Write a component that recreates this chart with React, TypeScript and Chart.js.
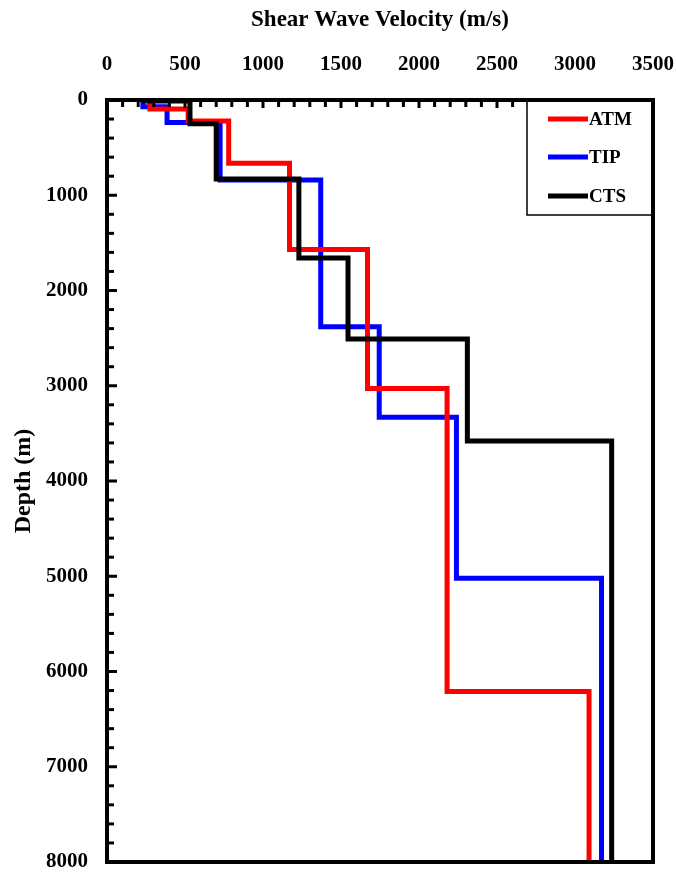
import React, { useEffect, useRef } from "react";
import { Chart, registerables } from "chart.js";
Chart.register(...registerables);

// Layer boundaries (depth, m) and layer velocities (m/s)
const seriesNames = ["ATM", "TIP", "CTS"];
const seriesColors = ["#ff0000", "#0000ff", "#000000"];
const atmDepths = [0, 94, 220, 665, 1570, 3030, 6210, 8000];
const atmVelocities = [275, 520, 780, 1170, 1670, 2180, 3090];
const tipDepths = [0, 70, 235, 840, 2380, 3330, 5020, 8000];
const tipVelocities = [230, 385, 725, 1370, 1745, 2240, 3170];
const ctsDepths = [0, 10, 250, 830, 1660, 2510, 3580, 8000];
const ctsVelocities = [240, 532, 700, 1230, 1545, 2310, 3235];
const xTickValues = [0, 500, 1000, 1500, 2000, 2500, 3000, 3500];
const yTickValues = [0, 1000, 2000, 3000, 4000, 5000, 6000, 7000, 8000];

function stepPoints(depths: number[], vels: number[]) {
  const pts: { x: number; y: number }[] = [];
  for (let i = 0; i < vels.length; i++) {
    pts.push({ x: vels[i], y: depths[i] });
    pts.push({ x: vels[i], y: depths[i + 1] });
  }
  return pts;
}

const FONT = "'Liberation Serif', 'Times New Roman', serif";

const framePlugin = {
  id: "frame",
  afterDraw(chart: any) {
    const { ctx, chartArea } = chart;
    const xs = chart.scales.x;
    const ys = chart.scales.y;
    const { left, right, top, bottom } = chartArea;
    ctx.save();
    ctx.strokeStyle = "#000";
    ctx.lineWidth = 3;
    for (let v = 100; v < 3500; v += 100) {
      const px = xs.getPixelForValue(v);
      const len = v % 500 === 0 ? 8 : 7;
      ctx.beginPath();
      ctx.moveTo(px, top);
      ctx.lineTo(px, top + len);
      ctx.stroke();
    }
    for (let d = 200; d < 8000; d += 200) {
      const py = ys.getPixelForValue(d);
      const len = d % 1000 === 0 ? 10 : 7;
      ctx.beginPath();
      ctx.moveTo(left, py);
      ctx.lineTo(left + len, py);
      ctx.stroke();
    }
    ctx.lineWidth = 4;
    ctx.strokeRect(left, top, right - left, bottom - top);

    // legend
    const bw = 126;
    const bh = 115;
    const bx = right - bw;
    const by = top;
    ctx.fillStyle = "#fff";
    ctx.fillRect(bx, by + 2, bw - 2, bh - 2);
    ctx.lineWidth = 1.5;
    ctx.strokeRect(bx, by, bw, bh);
    ctx.lineWidth = 4;
    ctx.beginPath();
    ctx.moveTo(bx, by);
    ctx.lineTo(right, by);
    ctx.lineTo(right, by + bh);
    ctx.stroke();
    const rows = [19, 57, 96];
    ctx.font = `bold 19px ${FONT}`;
    ctx.textBaseline = "middle";
    ctx.textAlign = "left";
    chart.data.datasets.forEach((ds: any, i: number) => {
      const y = by + rows[i];
      ctx.strokeStyle = ds.borderColor;
      ctx.lineWidth = 5;
      ctx.beginPath();
      ctx.moveTo(bx + 21, y);
      ctx.lineTo(bx + 61, y);
      ctx.stroke();
      ctx.fillStyle = "#000";
      ctx.fillText(ds.label, bx + 62, y + 1);
    });
    ctx.restore();
  },
};

export default function App() {
  const ref = useRef<HTMLCanvasElement | null>(null);
  useEffect(() => {
    document.body.style.margin = "0";
    const canvas = ref.current!;
    const datasets = [
      { label: seriesNames[0], data: stepPoints(atmDepths, atmVelocities), borderColor: seriesColors[0], order: 1 },
      { label: seriesNames[1], data: stepPoints(tipDepths, tipVelocities), borderColor: seriesColors[1], order: 2 },
      { label: seriesNames[2], data: stepPoints(ctsDepths, ctsVelocities), borderColor: seriesColors[2], order: 0 },
    ].map((d) => ({
      ...d,
      borderWidth: 5,
      pointRadius: 0,
      fill: false,
      tension: 0,
      borderJoinStyle: "miter" as const,
      borderCapStyle: "butt" as const,
      backgroundColor: d.borderColor,
    }));
    const chart = new Chart(canvas, {
      type: "line",
      data: { datasets },
      options: {
        animation: false,
        responsive: false,
        maintainAspectRatio: false,
        layout: { padding: { left: 0, right: 23, top: 0, bottom: 14 } },
        plugins: { legend: { display: false }, tooltip: { enabled: false } },
        scales: {
          x: {
            type: "linear",
            position: "top",
            min: 0,
            max: 3500,
            afterBuildTicks: (s: any) => {
              s.ticks = xTickValues.map((v) => ({ value: v }));
            },
            afterFit: (s: any) => {
              s.height = 100;
              s.paddingLeft = 0;
              s.paddingRight = 0;
            },
            ticks: {
              font: { family: FONT, size: 21, weight: "bold" },
              color: "#000",
              padding: 23,
              maxRotation: 0,
              autoSkip: false,
              callback: (v: any) => String(v),
            },
            grid: { display: false, drawTicks: false },
            border: { display: false },
            title: {
              display: true,
              text: "Shear Wave Velocity (m/s)",
              font: { family: FONT, size: 23, weight: "bold" },
              color: "#000",
              padding: { top: 6, bottom: 0 },
            },
          },
          y: {
            type: "linear",
            reverse: true,
            min: 0,
            max: 8000,
            afterBuildTicks: (s: any) => {
              s.ticks = yTickValues.map((v) => ({ value: v }));
            },
            afterFit: (s: any) => {
              s.width = 107;
              s.paddingTop = 0;
              s.paddingBottom = 0;
            },
            ticks: {
              font: { family: FONT, size: 21, weight: "bold" },
              color: "#000",
              padding: 19,
              autoSkip: false,
              callback: (v: any) => String(v),
            },
            grid: { display: false, drawTicks: false },
            border: { display: false },
            title: {
              display: true,
              text: "Depth (m)",
              font: { family: FONT, size: 24, weight: "bold" },
              color: "#000",
              padding: { top: 9, bottom: 0 },
            },
          },
        },
      },
      plugins: [framePlugin],
    });
    return () => chart.destroy();
  }, []);
  return <canvas ref={ref} width={676} height={876} style={{ display: "block" }} />;
}
